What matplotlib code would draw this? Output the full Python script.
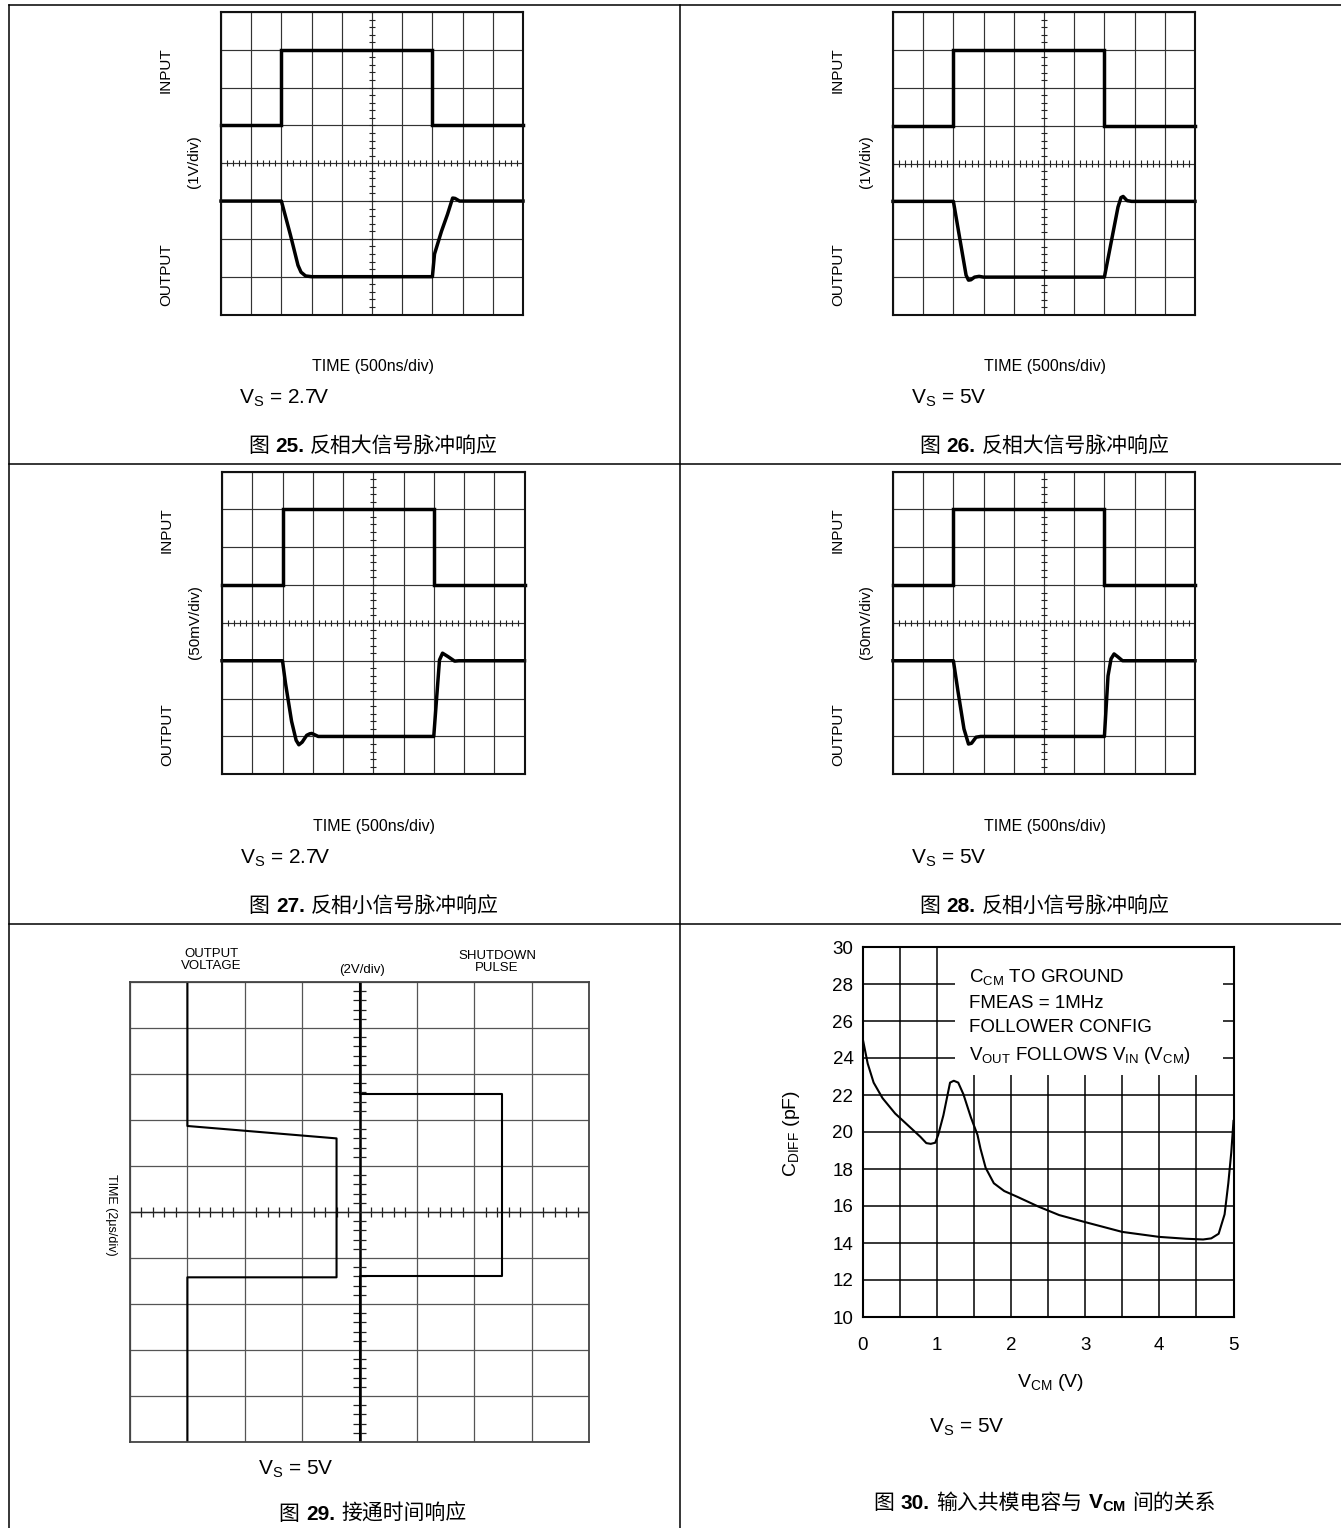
import matplotlib
matplotlib.use("Agg")
import matplotlib.pyplot as plt
import numpy as np
from matplotlib.lines import Line2D
from matplotlib.patches import Rectangle

W, H = 1341, 1528
DPI = 100
FAMILY = ["Liberation Sans", "Noto Sans CJK SC"]

# scope traces, in graticule divisions (x 0..10 left to right, y 0..8 bottom to top)
INPUT_X = [0, 2, 2, 7, 7, 10]
INPUT_Y = [5, 5, 7, 7, 5, 5]

OUT25_X = [0, 2.0, 2.3, 2.55, 2.65, 2.8, 3.0, 7.0, 7.07, 7.3, 7.5, 7.67, 7.75, 7.9, 10]
OUT25_Y = [3, 3.0, 2.1, 1.3, 1.12, 1.02, 1.0, 1.0, 1.6, 2.2, 2.65, 3.08, 3.07, 3.0, 3.0]

OUT26_X = [0, 2.0, 2.42, 2.5, 2.58, 2.7, 2.85, 3.0, 7.0, 7.45, 7.55, 7.62, 7.75, 7.9, 10]
OUT26_Y = [3, 3.0, 1.05, 0.92, 0.93, 1.0, 1.02, 1.0, 1.0, 2.85, 3.1, 3.13, 3.02, 3.0, 3.0]

OUT27_X = [0, 2.0, 2.1, 2.3, 2.45, 2.54, 2.65, 2.8, 2.9, 2.97, 3.18, 7.0, 7.09, 7.19, 7.29, 7.47, 7.69, 7.83, 10]
OUT27_Y = [3, 3.0, 2.4, 1.4, 0.9, 0.78, 0.85, 1.03, 1.07, 1.08, 1.0, 1.0, 1.96, 3.02, 3.2, 3.11, 2.99, 3.0, 3.0]

OUT28_X = [0, 2.0, 2.15, 2.35, 2.5, 2.6, 2.75, 2.9, 7.0, 7.06, 7.12, 7.22, 7.32, 7.45, 7.6, 10]
OUT28_Y = [3, 3.0, 2.2, 1.2, 0.8, 0.82, 0.98, 1.0, 1.0, 1.8, 2.6, 3.05, 3.18, 3.1, 3.0, 3.0]

# turn-on response, x divisions 0..8 from left, y (time) divisions 0..10 from top
SHUTDOWN_X = [4, 4, 6.49, 6.49, 4, 4]
SHUTDOWN_Y = [0, 2.44, 2.44, 6.40, 6.40, 10]
VOUT29_X = [1, 1, 3.6, 3.6, 1, 1]
VOUT29_Y = [0, 3.13, 3.40, 6.42, 6.42, 10]

# input common-mode capacitance vs VCM
VCM = [0.0, 0.02, 0.07, 0.15, 0.27, 0.44, 0.61, 0.78, 0.86, 0.92, 0.98, 1.02, 1.09, 1.18,
       1.23, 1.29, 1.36, 1.46, 1.55, 1.59, 1.66, 1.77, 1.91, 2.09, 2.37, 2.65, 3.0, 3.5,
       4.0, 4.36, 4.59, 4.70, 4.80, 4.88, 4.93, 4.97, 5.0]
CDIFF = [25.1, 24.7, 23.7, 22.67, 21.83, 21.0, 20.37, 19.74, 19.4, 19.36, 19.42, 19.84, 20.9,
         22.67, 22.77, 22.67, 22.04, 20.8, 19.84, 19.1, 18.06, 17.23, 16.81, 16.49, 15.97,
         15.51, 15.13, 14.6, 14.33, 14.23, 14.19, 14.25, 14.5, 15.55, 17.23, 18.9, 20.6]


def px_axes(fig, x0, y0, x1, y1):
    return fig.add_axes([x0 / W, 1 - y1 / H, (x1 - x0) / W, (y1 - y0) / H])


def ftext(fig, x, y, s, **kw):
    kw.setdefault("family", FAMILY)
    return fig.text(x / W, 1 - y / H, s, **kw)


def fline(fig, x0, y0, x1, y1, lw=1.1):
    fig.add_artist(Line2D([x0 / W, x1 / W], [1 - y0 / H, 1 - y1 / H], color="black", lw=lw))


def rich_text(fig, xc, yb, parts, size):
    renderer = fig.canvas.get_renderer()
    arts, widths = [], []
    for s, weight in parts:
        if s == " ":
            arts.append(None)
            widths.append(0.3 * size * DPI / 72)
            continue
        t = ftext(fig, 0, yb, s, fontsize=size, fontweight=weight, va="baseline", ha="left")
        arts.append(t)
        widths.append(t.get_window_extent(renderer).width)
    x = xc - sum(widths) / 2
    for t, w in zip(arts, widths):
        if t is not None:
            t.set_x(x / W)
        x += w


def scope(fig, box, out_x, out_y):
    ax = px_axes(fig, *box)
    ax.set_xlim(0, 10)
    ax.set_ylim(0, 8)
    ax.set_xticks(range(11))
    ax.set_yticks(range(9))
    ax.tick_params(length=0, labelbottom=False, labelleft=False)
    ax.grid(True, color="#333333", linewidth=0.85)
    for sp in ax.spines.values():
        sp.set_linewidth(1.5)
        sp.set_color("#111111")
    tx = np.arange(0, 10.01, 0.2)
    ax.vlines(tx, 4 - 0.08, 4 + 0.08, color="#222222", lw=0.8)
    ty = np.arange(0, 8.01, 0.2)
    ax.hlines(ty, 5 - 0.1, 5 + 0.1, color="#222222", lw=0.8)
    ax.plot(INPUT_X, INPUT_Y, color="black", lw=2.5, solid_joinstyle="miter", clip_on=False)
    ax.plot(out_x, out_y, color="black", lw=2.5, solid_joinstyle="round", clip_on=False)
    return ax


def scope_labels(fig, xoff, yoff, scale, time_x, vs_text, caption):
    ftext(fig, xoff + 166, yoff + 70, "INPUT", fontsize=11, rotation=90, ha="center", va="center")
    ftext(fig, xoff + 194, yoff + 162, scale, fontsize=11, rotation=90, ha="center", va="center")
    ftext(fig, xoff + 166, yoff + 275, "OUTPUT", fontsize=11, rotation=90, ha="center", va="center")
    ftext(fig, time_x, yoff + 366.5, "TIME (500ns/div)", fontsize=11.5, ha="center", va="center")
    ftext(fig, xoff + 239, yoff + 403, vs_text, fontsize=15, ha="left", va="baseline")
    rich_text(fig, time_x, yoff + 451.5, caption, 15)


def main():
    fig = plt.figure(figsize=(W / DPI, H / DPI), dpi=DPI)
    fig.patch.set_facecolor("white")

    # table rules
    fline(fig, 8.5, 5, W, 5)
    fline(fig, 8.5, 5, 8.5, H)
    fline(fig, 679.5, 5, 679.5, H)
    fline(fig, 8.5, 464, W, 464)
    fline(fig, 8.5, 923.5, W, 923.5)

    scope(fig, (221, 12, 523, 314.5), OUT25_X, OUT25_Y)
    scope(fig, (893, 12, 1195, 315), OUT26_X, OUT26_Y)
    scope(fig, (222, 471.5, 524.5, 774.3), OUT27_X, OUT27_Y)
    scope(fig, (893, 471.5, 1195, 774.3), OUT28_X, OUT28_Y)

    vs27 = r"V$_\mathregular{S}$ = 2.7V"
    vs5 = r"V$_\mathregular{S}$ = 5V"
    scope_labels(fig, 0, 0, "(1V/div)", 373, vs27,
                 [("图", "normal"), (" ", None), ("25.", "bold"), (" ", None), ("反相大信号脉冲响应", "normal")])
    scope_labels(fig, 672, 0, "(1V/div)", 1044.7, vs5,
                 [("图", "normal"), (" ", None), ("26.", "bold"), (" ", None), ("反相大信号脉冲响应", "normal")])
    scope_labels(fig, 1, 460, "(50mV/div)", 373.8, vs27,
                 [("图", "normal"), (" ", None), ("27.", "bold"), (" ", None), ("反相小信号脉冲响应", "normal")])
    scope_labels(fig, 672, 460, "(50mV/div)", 1044.7, vs5,
                 [("图", "normal"), (" ", None), ("28.", "bold"), (" ", None), ("反相小信号脉冲响应", "normal")])

    # figure 29: turn-on time response
    ax = px_axes(fig, 130, 982, 589, 1442)
    ax.set_xlim(0, 8)
    ax.set_ylim(10, 0)
    ax.set_xticks(range(9))
    ax.set_yticks(range(11))
    ax.tick_params(length=0, labelbottom=False, labelleft=False)
    ax.grid(True, color="#555555", linewidth=0.9)
    for sp in ax.spines.values():
        sp.set_linewidth(1.3)
        sp.set_color("#444444")
    ax.axvline(4, color="black", lw=1.8)
    ax.axhline(5, color="#222222", lw=1.0)
    tx = [v for v in np.arange(0, 8.01, 0.2) if abs(v - round(v)) > 1e-6]
    ax.vlines(tx, 5 - 0.1, 5 + 0.1, color="#222222", lw=0.9)
    ty = [v for v in np.arange(0, 10.01, 0.2) if abs(v - round(v)) > 1e-6]
    ax.hlines(ty, 4 - 0.11, 4 + 0.11, color="#222222", lw=0.9)
    ax.plot(SHUTDOWN_X, SHUTDOWN_Y, color="black", lw=1.5)
    ax.plot(VOUT29_X, VOUT29_Y, color="black", lw=1.5)

    ftext(fig, 211, 960, "OUTPUT\nVOLTAGE", fontsize=9.5, ha="center", va="center", linespacing=1.05)
    ftext(fig, 362, 970, "(2V/div)", fontsize=9.5, ha="center", va="center")
    ftext(fig, 497, 962, "SHUTDOWN\nPULSE", fontsize=9.5, ha="center", va="center", linespacing=1.05)
    ftext(fig, 110.6, 1214.6, "TIME (2μs/div)", fontsize=9, rotation=270, ha="center", va="center")
    ftext(fig, 258, 1474, vs5, fontsize=15, ha="left", va="baseline")
    rich_text(fig, 372.5, 1520, [("图", "normal"), (" ", None), ("29.", "bold"), (" ", None),
                                 ("接通时间响应", "normal")], 15)

    # figure 30: input common-mode capacitance vs VCM
    ax = px_axes(fig, 862.5, 947, 1233.5, 1317)
    ax.set_xlim(0, 5)
    ax.set_ylim(10, 30)
    ax.set_xticks(range(6))
    ax.set_xticks(np.arange(0.5, 5, 1), minor=True)
    ax.set_yticks(range(10, 31, 2))
    ax.grid(True, which="both", color="black", linewidth=1.1)
    ax.tick_params(which="both", length=0)
    ax.tick_params(axis="x", pad=14.5, labelsize=13.5)
    ax.tick_params(axis="y", pad=6.5, labelsize=13.5)
    for lab in ax.get_xticklabels() + ax.get_yticklabels():
        lab.set_family(FAMILY)
    for sp in ax.spines.values():
        sp.set_linewidth(1.5)
    ax.add_patch(Rectangle((1.24, 23.1), 3.62, 6.9, facecolor="white", edgecolor="none", zorder=1.7))
    ax.plot(VCM, CDIFF, color="black", lw=1.5, zorder=2)

    ftext(fig, 968.8, 983, r"C$_\mathregular{CM}$ TO GROUND", fontsize=13.5, va="baseline")
    ftext(fig, 968.8, 1008.4, "FMEAS = 1MHz", fontsize=13.5, va="baseline")
    ftext(fig, 968.8, 1031.7, "FOLLOWER CONFIG", fontsize=13.5, va="baseline")
    ftext(fig, 968.8, 1060.4, r"V$_\mathregular{OUT}$ FOLLOWS V$_\mathregular{IN}$ (V$_\mathregular{CM}$)",
          fontsize=13.5, va="baseline")
    ftext(fig, 791.7, 1133, r"C$_\mathregular{DIFF}$ (pF)", fontsize=14, rotation=90, ha="center", va="center")
    ftext(fig, 1051, 1387, r"V$_\mathregular{CM}$ (V)", fontsize=14, ha="center", va="baseline")
    ftext(fig, 928.7, 1432, vs5, fontsize=15, ha="left", va="baseline")
    rich_text(fig, 1044.7, 1508.6, [("图", "normal"), (" ", None), ("30.", "bold"), (" ", None),
                                    ("输入共模电容与", "normal"), (" ", None),
                                    (r"V$_\mathregular{CM}$", "bold"), (" ", None),
                                    ("间的关系", "normal")], 15)

    fig.savefig("out.png", dpi=DPI)
    plt.close(fig)


if __name__ == "__main__":
    main()
